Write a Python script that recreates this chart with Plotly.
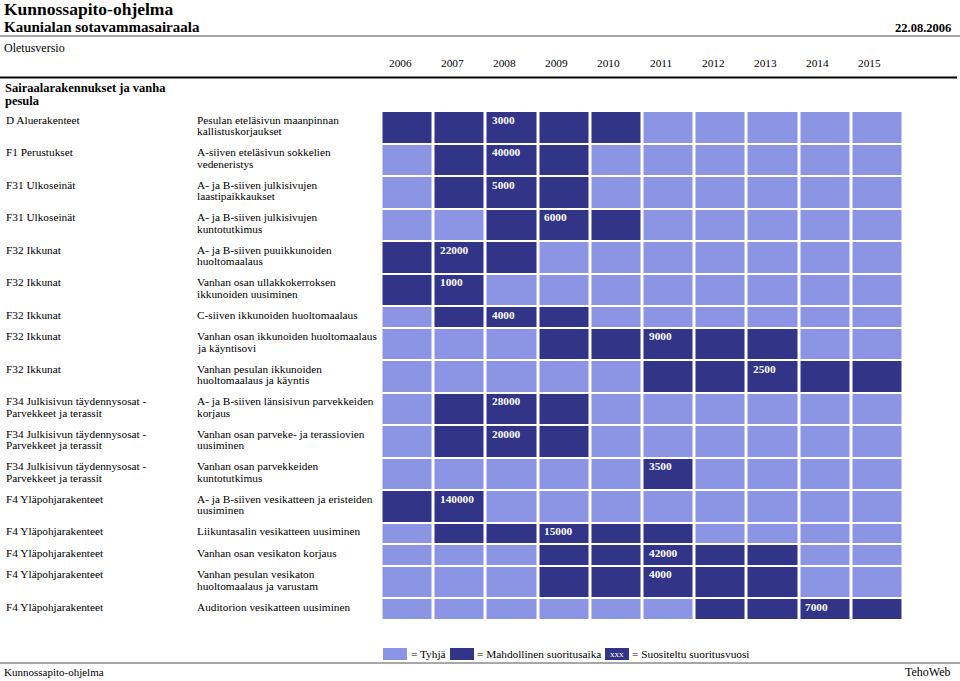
import plotly.graph_objects as go

# ---------------- data ----------------
years = [2006, 2007, 2008, 2009, 2010, 2011, 2012, 2013, 2014, 2015]

categories = [
    "D Aluerakenteet",
    "F1 Perustukset",
    "F31 Ulkoseinät",
    "F31 Ulkoseinät",
    "F32 Ikkunat",
    "F32 Ikkunat",
    "F32 Ikkunat",
    "F32 Ikkunat",
    "F32 Ikkunat",
    "F34 Julkisivun täydennysosat -\nParvekkeet ja terassit",
    "F34 Julkisivun täydennysosat -\nParvekkeet ja terassit",
    "F34 Julkisivun täydennysosat -\nParvekkeet ja terassit",
    "F4 Yläpohjarakenteet",
    "F4 Yläpohjarakenteet",
    "F4 Yläpohjarakenteet",
    "F4 Yläpohjarakenteet",
    "F4 Yläpohjarakenteet",
]

tasks = [
    "Pesulan eteläsivun maanpinnan\nkallistuskorjaukset",
    "A-siiven eteläsivun sokkelien\nvedeneristys",
    "A- ja B-siiven julkisivujen\nlaastipaikkaukset",
    "A- ja B-siiven julkisivujen\nkuntotutkimus",
    "A- ja B-siiven puuikkunoiden\nhuoltomaalaus",
    "Vanhan osan ullakkokerroksen\nikkunoiden uusiminen",
    "C-siiven ikkunoiden huoltomaalaus",
    "Vanhan osan ikkunoiden huoltomaalaus\nja käyntisovi",
    "Vanhan pesulan ikkunoiden\nhuoltomaalaus ja käyntis",
    "A- ja B-siiven länsisivun parvekkeiden\nkorjaus",
    "Vanhan osan parveke- ja terassiovien\nuusiminen",
    "Vanhan osan parvekkeiden\nkuntotutkimus",
    "A- ja B-siiven vesikatteen ja eristeiden\nuusiminen",
    "Liikuntasalin vesikatteen uusiminen",
    "Vanhan osan vesikaton korjaus",
    "Vanhan pesulan vesikaton\nhuoltomaalaus ja varustam",
    "Auditorion vesikatteen uusiminen",
]

start_years = [2006, 2007, 2007, 2008, 2006, 2006, 2007, 2009, 2011, 2007, 2007, 2011, 2006, 2007, 2009, 2009, 2012]
end_years = [2010, 2009, 2009, 2010, 2008, 2007, 2009, 2013, 2015, 2009, 2009, 2011, 2007, 2011, 2013, 2013, 2015]
recommended_years = [2008, 2008, 2008, 2009, 2007, 2007, 2008, 2011, 2013, 2008, 2008, 2011, 2007, 2009, 2011, 2011, 2014]
costs = [3000, 40000, 5000, 6000, 22000, 1000, 4000, 9000, 2500, 28000, 20000, 3500, 140000, 15000, 42000, 4000, 7000]

title_main = "Kunnossapito-ohjelma"
subtitle = "Kaunialan sotavammasairaala"
date_text = "22.08.2006"
version_text = "Oletusversio"
section_text = "Sairaalarakennukset ja vanha\npesula"
legend_labels = ["= Tyhjä", "= Mahdollinen suoritusaika", "= Suositeltu suoritusvuosi"]
legend_sample = "xxx"
footer_left = "Kunnossapito-ohjelma"
footer_right = "TehoWeb"

# ---------------- style / layout ----------------
LIGHT = "#8C94E4"
DARK = "#323487"
FONT = "Liberation Serif, Times New Roman, serif"
W, H = 960, 681
GRID_TOP = 111.0
SINGLE_H = 21.5
LINE_EXTRA = 11.0
COL0 = 381.5
PITCH = 52.2
LINE_STEP = 11.5
TXT = 11.3

n_lines = [max(c.count("\n"), t.count("\n")) + 1 for c, t in zip(categories, tasks)]
edges = [GRID_TOP]
for n in n_lines:
    edges.append(edges[-1] + SINGLE_H + LINE_EXTRA * (n - 1))

z = [[1 if s <= y <= e else 0 for y in years] for s, e in zip(start_years, end_years)]

x_range = [years[0] - 0.5 - COL0 / PITCH, years[0] - 0.5 + (W - COL0) / PITCH]

fig = go.Figure()
fig.add_trace(go.Heatmap(
    x=years, y=edges, z=z,
    zmin=0, zmax=1,
    colorscale=[[0, LIGHT], [0.5, LIGHT], [0.5, DARK], [1, DARK]],
    showscale=False, xgap=3, ygap=2, hoverinfo="skip",
))

ann = []


def txt(x, y, text, size=TXT, bold=False, color="black", xanchor="left", xref="paper", xshift=0, yshift=0):
    t = "<b>%s</b>" % text if bold else text
    ann.append(dict(x=x, y=y, xref=xref, yref="y", text=t, showarrow=False,
                    xanchor=xanchor, yanchor="middle", xshift=xshift, yshift=yshift,
                    font=dict(family=FONT, size=size, color=color)))


def px(v):
    return v / W


# header
txt(px(2), 9, title_main, size=17.5, bold=True)
txt(px(2), 27, subtitle, size=15, bold=True)
txt(px(953), 28, date_text, size=12.5, bold=True, xanchor="right")
txt(px(2), 48, version_text, size=12)
for yr in years:
    txt(yr - 0.5, 63, str(yr), xref="x", xshift=5)
for j, line in enumerate(section_text.split("\n")):
    txt(px(3), 88 + 13 * j, line, size=12.5, bold=True)

# row labels
for i in range(len(categories)):
    top = edges[i]
    for j, line in enumerate(categories[i].split("\n")):
        txt(px(4), top + 8.5 + LINE_STEP * j, line)
    for j, line in enumerate(tasks[i].split("\n")):
        txt(px(195), top + 8.5 + LINE_STEP * j, line)
    txt(recommended_years[i] - 0.5, top + 8.5, str(costs[i]), bold=True, color="white",
        xref="x", xshift=4)

# legend
LEG_Y = 654
shapes = []
for x0, col in [(383, LIGHT), (450, DARK), (605, DARK)]:
    shapes.append(dict(type="rect", xref="paper", yref="y", x0=px(x0), x1=px(x0 + 24),
                       y0=LEG_Y - 6, y1=LEG_Y + 6, fillcolor=col, line=dict(width=0)))
txt(px(409), LEG_Y, legend_labels[0])
txt(px(475), LEG_Y, legend_labels[1])
txt(px(630), LEG_Y, legend_labels[2])
txt(px(617), LEG_Y, legend_sample, size=9, color="white", xanchor="center")

# footer
txt(px(2), 672, footer_left, size=11)
txt(px(953), 672, footer_right, size=12, xanchor="right")

# rules
shapes.append(dict(type="line", xref="paper", yref="y", x0=0, x1=1, y0=36, y1=36,
                   line=dict(color="#8a8a8a", width=1.5)))
shapes.append(dict(type="line", xref="paper", yref="y", x0=0, x1=px(957), y0=77.5, y1=77.5,
                   line=dict(color="black", width=2)))
shapes.append(dict(type="line", xref="paper", yref="y", x0=0, x1=1, y0=663, y1=663,
                   line=dict(color="#8a8a8a", width=1.5)))

fig.update_layout(
    width=W, height=H, autosize=False,
    margin=dict(l=0, r=0, t=0, b=0, pad=0),
    paper_bgcolor="white", plot_bgcolor="white",
    xaxis=dict(range=x_range, visible=False, showgrid=False, zeroline=False, fixedrange=True),
    yaxis=dict(range=[H, 0], visible=False, showgrid=False, zeroline=False, fixedrange=True),
    annotations=ann, shapes=shapes, showlegend=False,
)

fig.write_html("out.html", config={"displayModeBar": False},
               post_script="document.body.style.margin='0';")
